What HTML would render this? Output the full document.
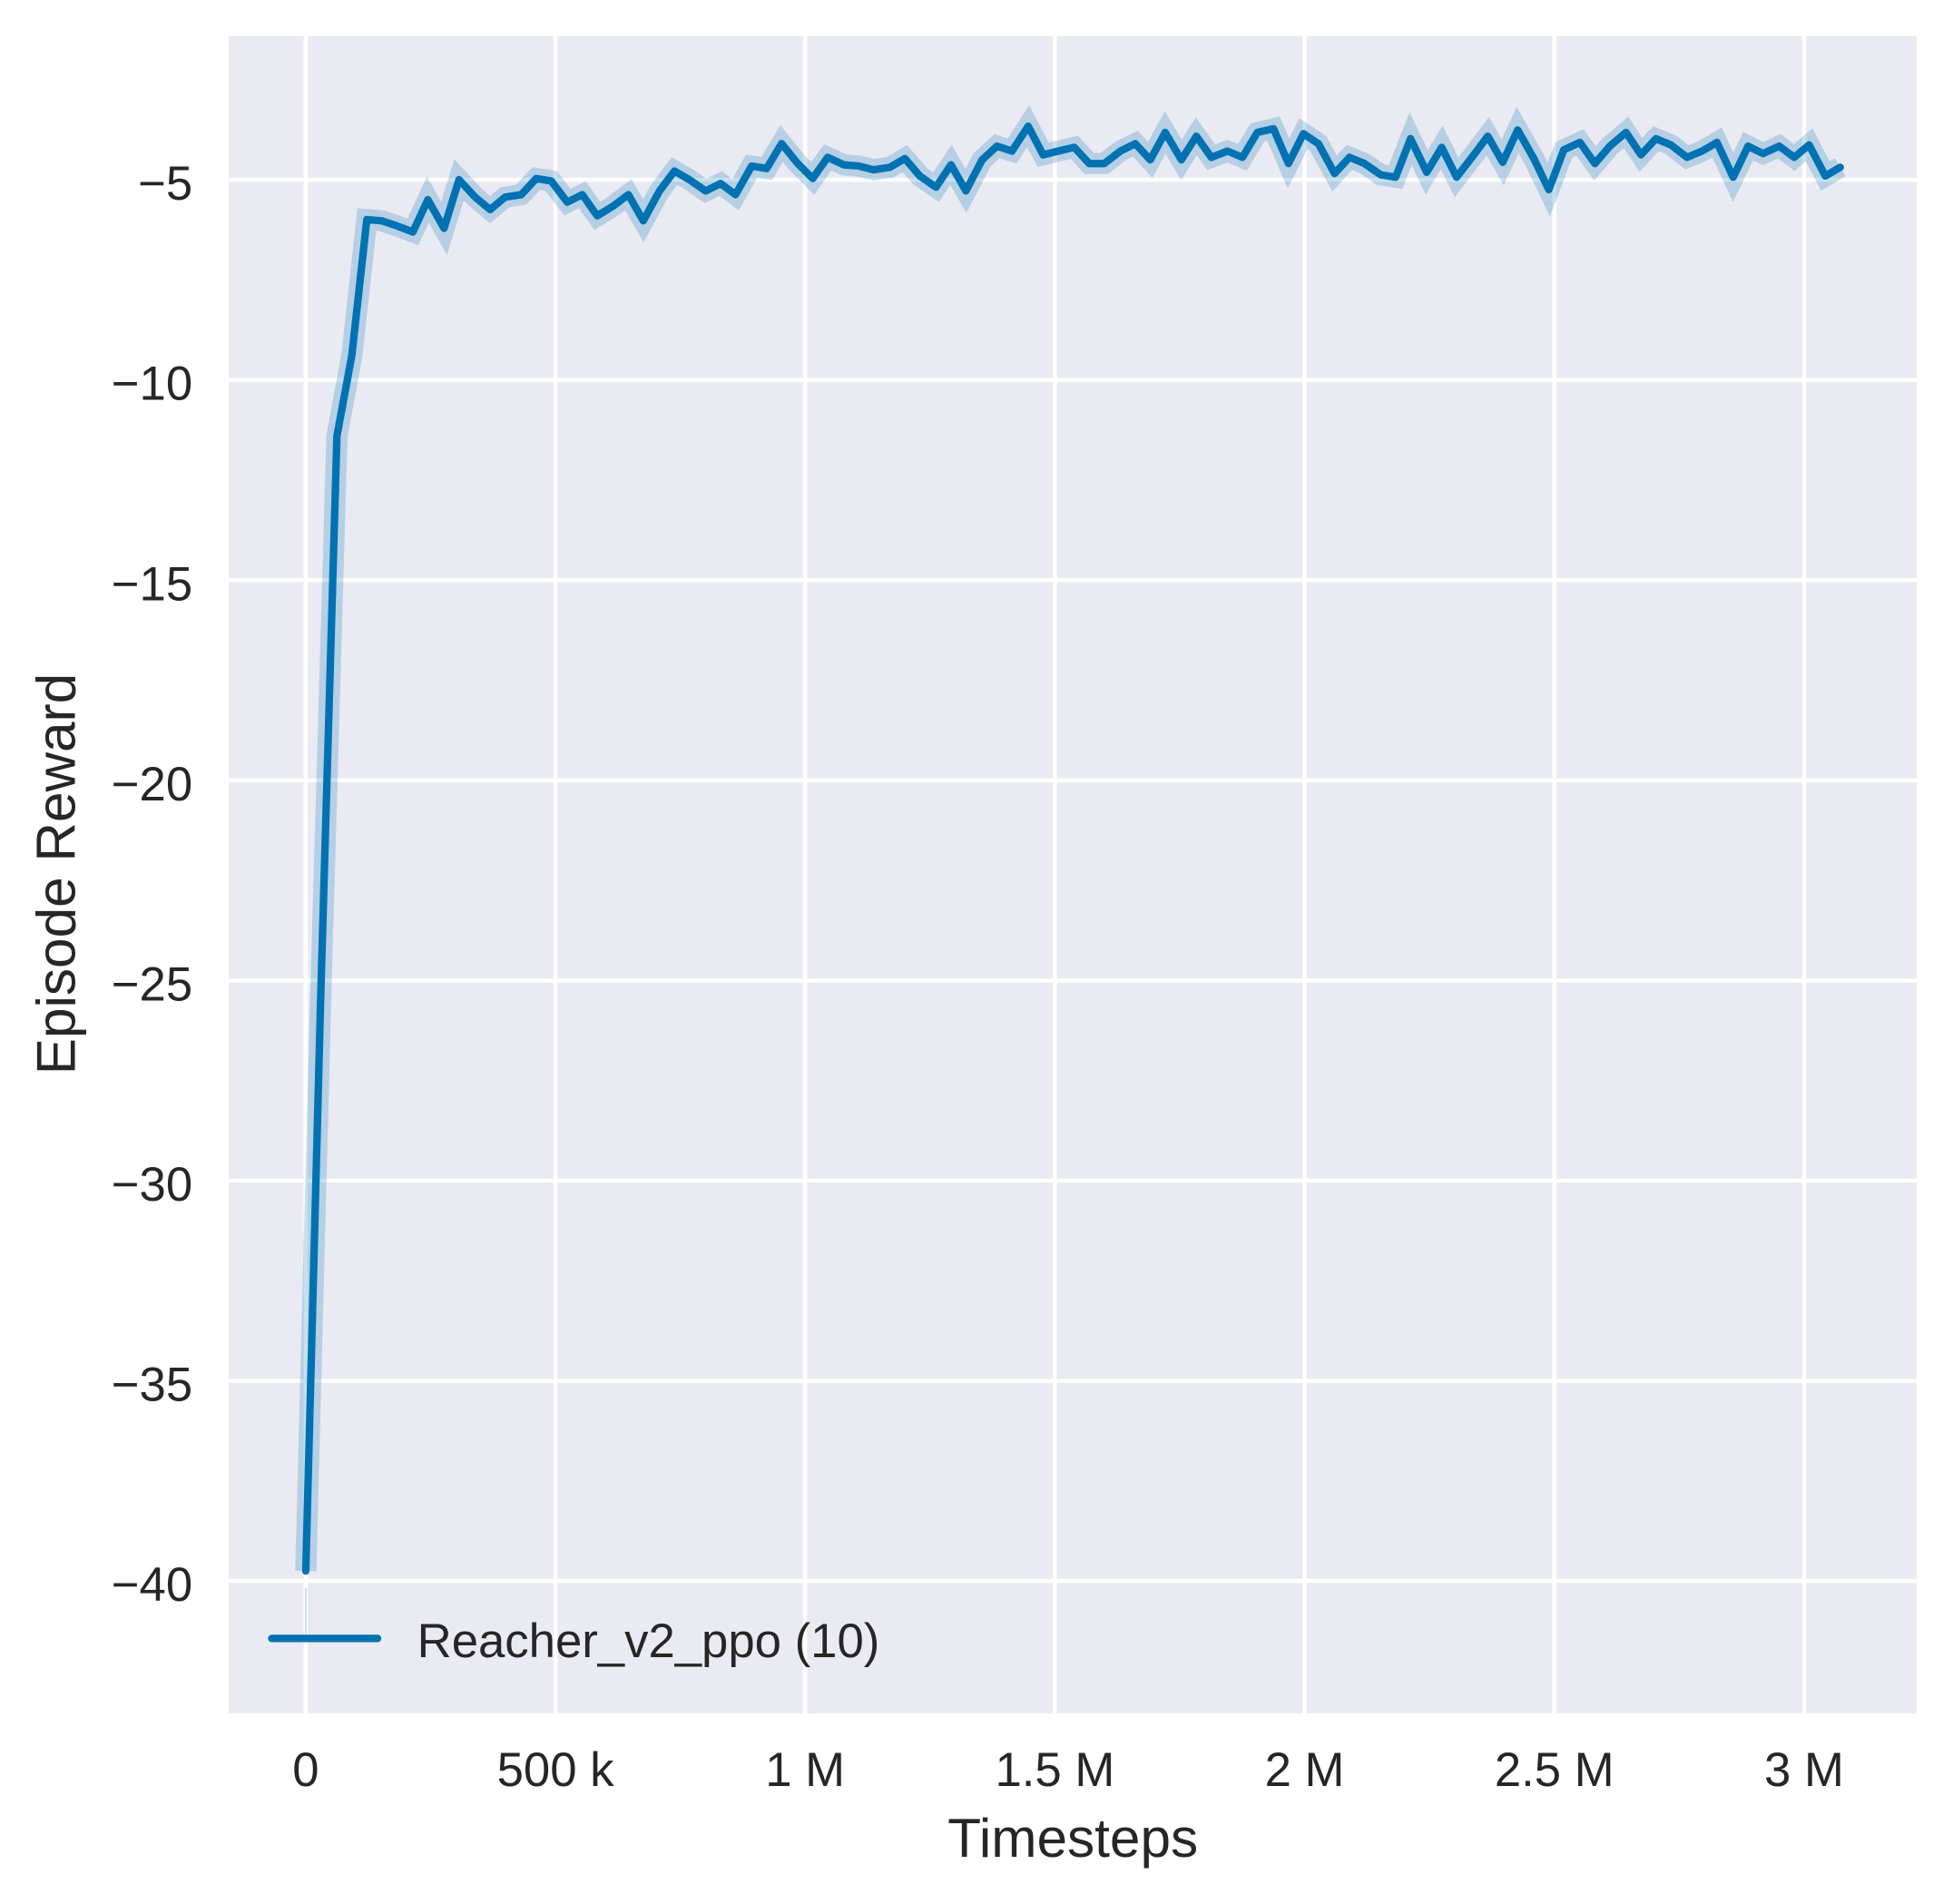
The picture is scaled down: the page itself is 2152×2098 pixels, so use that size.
<!DOCTYPE html>
<html><head><meta charset="utf-8"><style>html,body{margin:0;padding:0;background:#fff}svg{display:block}</style></head>
<body>
<svg width="2152" height="2098" viewBox="0 0 1552 1513" xmlns="http://www.w3.org/2000/svg" font-family="Liberation Sans, DejaVu Sans, sans-serif">
<rect x="0" y="0" width="1552" height="1513" fill="#fff"/>
<rect x="181.7" y="28.8" width="1341.5" height="1332.8" fill="#eaeaf2"/>
<g stroke="#fff" stroke-width="3.2">
<line x1="243" y1="28.8" x2="243" y2="1361.6"/><line x1="441.4" y1="28.8" x2="441.4" y2="1361.6"/><line x1="639.8" y1="28.8" x2="639.8" y2="1361.6"/><line x1="838.3" y1="28.8" x2="838.3" y2="1361.6"/><line x1="1036.7" y1="28.8" x2="1036.7" y2="1361.6"/><line x1="1235.2" y1="28.8" x2="1235.2" y2="1361.6"/><line x1="1433.7" y1="28.8" x2="1433.7" y2="1361.6"/>
<line x1="181.7" y1="142.8" x2="1523.2" y2="142.8"/><line x1="181.7" y1="301.9" x2="1523.2" y2="301.9"/><line x1="181.7" y1="461" x2="1523.2" y2="461"/><line x1="181.7" y1="620.1" x2="1523.2" y2="620.1"/><line x1="181.7" y1="779.2" x2="1523.2" y2="779.2"/><line x1="181.7" y1="938.2" x2="1523.2" y2="938.2"/><line x1="181.7" y1="1097.3" x2="1523.2" y2="1097.3"/><line x1="181.7" y1="1256.3" x2="1523.2" y2="1256.3"/>
</g>
<g font-size="38" fill="#262626" text-anchor="end">
<text x="153" y="158.7">−5</text><text x="153" y="317.8">−10</text><text x="153" y="476.9">−15</text><text x="153" y="636">−20</text><text x="153" y="795.1">−25</text><text x="153" y="954.1">−30</text><text x="153" y="1113.2">−35</text><text x="153" y="1272.2">−40</text>
</g>
<g font-size="38" fill="#262626" text-anchor="middle">
<text x="243" y="1419.3">0</text><text x="441.4" y="1419.3">500 k</text><text x="639.8" y="1419.3">1 M</text><text x="838.3" y="1419.3">1.5 M</text><text x="1036.7" y="1419.3">2 M</text><text x="1235.2" y="1419.3">2.5 M</text><text x="1433.7" y="1419.3">3 M</text>
<text x="852.6" y="1475.6" font-size="43.5">Timesteps</text>
<text transform="translate(59.6,694.5) rotate(-90)" font-size="43.5">Episode Reward</text>
</g>
<g fill="none" stroke-linejoin="round" stroke-linecap="round" transform="translate(243,142.8) scale(0.98978,0.9889) translate(-245,-144)">
<polyline stroke="#0072b2" stroke-opacity="0.22" stroke-width="17" stroke-linejoin="miter" stroke-linecap="butt" points="245,1262 257,800 270,350 282,285 294,176 306,177 318,181 331,186 343,160 356,183 368,144 381,158 393,168 405,158 418,156 430,143 442,145 455,162 467,156 479,173 492,165 504,156 516,177 529,153 541,137 553,144 566,153 578,147 590,156 603,133 615,135 627,115 640,131 652,143 664,126 677,132 689,133 701,136 714,134 726,127 738,141 751,150 763,132 775,153 788,128 800,117 812,121 825,101 837,124 849,121 862,118 874,131 886,131 899,121 911,115 923,128 935,106 948,128 960,109 972,126 985,121 997,126 1009,106 1022,103 1034,131 1046,107 1058,115 1071,139 1083,126 1095,131 1108,140 1120,142 1132,111 1145,138 1157,118 1169,142 1182,125 1194,109 1206,130 1218,104 1231,127 1243,152 1255,120 1268,114 1280,131 1292,117 1305,106 1317,124 1329,111 1341,116 1354,126 1366,121 1378,114 1391,142 1403,117 1415,123 1428,117 1440,126 1452,116 1465,141 1477,134"/>
<polyline stroke="#0072b2" stroke-width="6" points="245,1262 257,800 270,350 282,285 294,176 306,177 318,181 331,186 343,160 356,183 368,144 381,158 393,168 405,158 418,156 430,143 442,145 455,162 467,156 479,173 492,165 504,156 516,177 529,153 541,137 553,144 566,153 578,147 590,156 603,133 615,135 627,115 640,131 652,143 664,126 677,132 689,133 701,136 714,134 726,127 738,141 751,150 763,132 775,153 788,128 800,117 812,121 825,101 837,124 849,121 862,118 874,131 886,131 899,121 911,115 923,128 935,106 948,128 960,109 972,126 985,121 997,126 1009,106 1022,103 1034,131 1046,107 1058,115 1071,139 1083,126 1095,131 1108,140 1120,142 1132,111 1145,138 1157,118 1169,142 1182,125 1194,109 1206,130 1218,104 1231,127 1243,152 1255,120 1268,114 1280,131 1292,117 1305,106 1317,124 1329,111 1341,116 1354,126 1366,121 1378,114 1391,142 1403,117 1415,123 1428,117 1440,126 1452,116 1465,141 1477,134"/>
</g>
<line x1="243" y1="1262" x2="243" y2="1305" stroke="#0072b2" stroke-opacity="0.3" stroke-width="1"/>
<line x1="216" y1="1302" x2="300" y2="1302" stroke="#0072b2" stroke-width="6" stroke-linecap="round"/>
<text x="331.5" y="1317" font-size="38" fill="#262626">Reacher_v2_ppo (10)</text>
</svg>
</body></html>
